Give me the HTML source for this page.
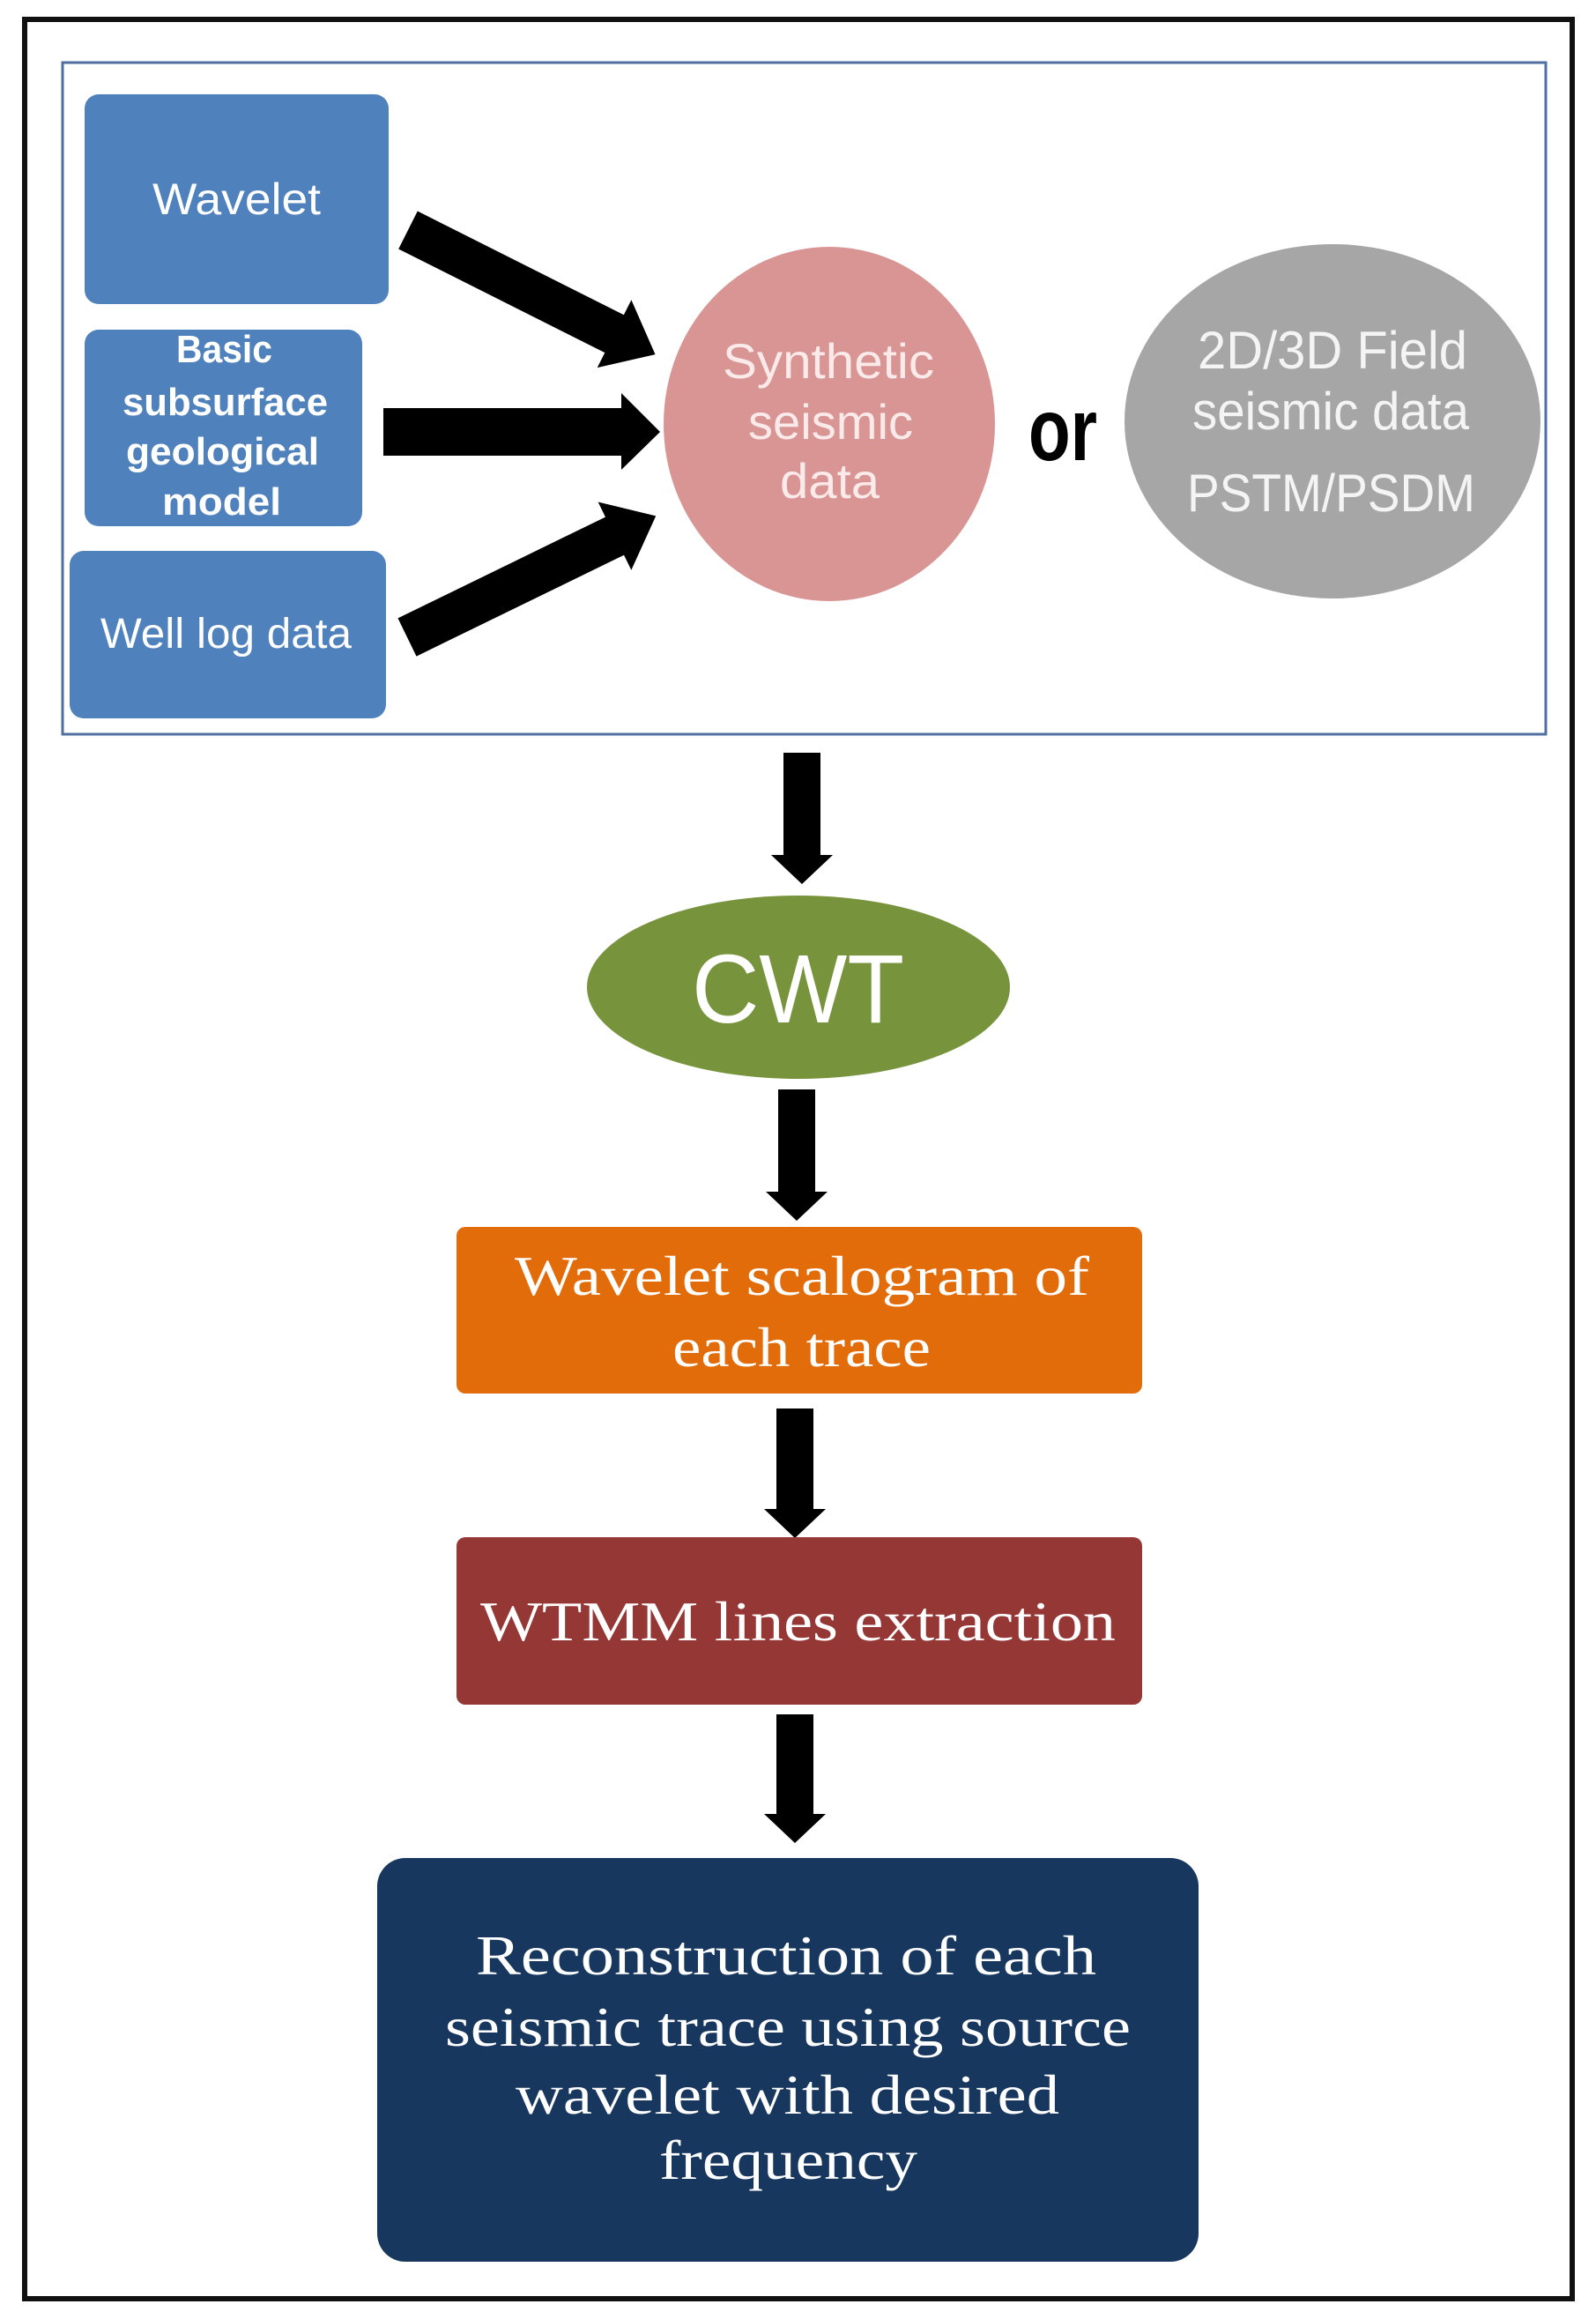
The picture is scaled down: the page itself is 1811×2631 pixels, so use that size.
<!DOCTYPE html>
<html><head><meta charset="utf-8"><style>html,body{margin:0;padding:0;background:#fff}svg{display:block}</style></head>
<body>
<svg width="1811" height="2631" viewBox="0 0 1811 2631" xmlns="http://www.w3.org/2000/svg">
<rect x="28" y="22" width="1756" height="2586" fill="#fff" stroke="#111" stroke-width="6"/>
<rect x="71" y="71" width="1683" height="762" fill="#fff" stroke="#4f6fa0" stroke-width="3"/>
<g font-family="Liberation Sans, sans-serif" fill="#fff">
<rect x="96" y="107" width="345" height="238" rx="16" fill="#4f81bd"/>
<rect x="96" y="374" width="315" height="223" rx="16" fill="#4f81bd"/>
<rect x="79" y="625" width="359" height="190" rx="16" fill="#4f81bd"/>
<text x="173" y="243" font-size="50" textLength="191" lengthAdjust="spacingAndGlyphs">Wavelet</text>
<g font-weight="bold" font-size="44">
<text x="200" y="411" textLength="109" lengthAdjust="spacingAndGlyphs">Basic</text>
<text x="139" y="471" textLength="233" lengthAdjust="spacingAndGlyphs">subsurface</text>
<text x="143" y="527" textLength="219" lengthAdjust="spacingAndGlyphs">geological</text>
<text x="184" y="584" textLength="135" lengthAdjust="spacingAndGlyphs">model</text>
</g>
<text x="114" y="735" font-size="48" textLength="285" lengthAdjust="spacingAndGlyphs">Well log data</text>
<ellipse cx="941" cy="481" rx="188" ry="201" fill="#d99594"/>
<g font-size="56" fill="#fbeaea">
<text x="820" y="429" textLength="240" lengthAdjust="spacingAndGlyphs">Synthetic</text>
<text x="849" y="498" textLength="187" lengthAdjust="spacingAndGlyphs">seismic</text>
<text x="885" y="565" textLength="113" lengthAdjust="spacingAndGlyphs">data</text>
</g>
<ellipse cx="1512" cy="478" rx="236" ry="201" fill="#a6a6a6"/>
<g font-size="60" fill="#f4f4f4">
<text x="1359" y="418" textLength="306" lengthAdjust="spacingAndGlyphs">2D/3D Field</text>
<text x="1353" y="487" textLength="314" lengthAdjust="spacingAndGlyphs">seismic data</text>
<text x="1347" y="580" textLength="327" lengthAdjust="spacingAndGlyphs">PSTM/PSDM</text>
</g>
<text x="1167" y="522" font-size="100" font-weight="bold" fill="#000" textLength="78" lengthAdjust="spacingAndGlyphs">or</text>
</g>
<g fill="#000">
<polygon points="435,463 705,463 705,446 749,490 705,533 705,517 435,517"/>
<g transform="translate(463,261) rotate(26.7)"><polygon points="0,-24 262,-24 262,-43 314,0 262,43 262,24 0,24"/></g>
<g transform="translate(462,723) rotate(-26)"><polygon points="0,-24 262,-24 262,-43 314,0 262,43 262,24 0,24"/></g>
<polygon points="889,854 931,854 931,970 945,970 910,1003 875,970 889,970"/>
<polygon points="883,1236 925,1236 925,1352 939,1352 904,1385 869,1352 883,1352"/>
<polygon points="881,1598 923,1598 923,1712 937,1712 902,1745 867,1712 881,1712"/>
<polygon points="881,1945 923,1945 923,2058 937,2058 902,2091 867,2058 881,2058"/>
</g>
<ellipse cx="906" cy="1120" rx="240" ry="104" fill="#77933c"/>
<text x="785" y="1160" font-family="Liberation Sans, sans-serif" font-size="110" fill="#fff" textLength="241" lengthAdjust="spacingAndGlyphs">CWT</text>
<g font-family="Liberation Serif, serif" fill="#fff" font-size="64">
<rect x="518" y="1392" width="778" height="189" rx="10" fill="#e36c0a"/>
<text x="584" y="1469" textLength="652" lengthAdjust="spacingAndGlyphs">Wavelet scalogram of</text>
<text x="763" y="1550" textLength="293" lengthAdjust="spacingAndGlyphs">each trace</text>
<rect x="518" y="1744" width="778" height="190" rx="10" fill="#953735"/>
<text x="545" y="1861" textLength="721" lengthAdjust="spacingAndGlyphs">WTMM lines extraction</text>
<rect x="428" y="2108" width="932" height="458" rx="32" fill="#17375e"/>
<text x="540" y="2240" textLength="704" lengthAdjust="spacingAndGlyphs">Reconstruction of each</text>
<text x="505" y="2321" textLength="778" lengthAdjust="spacingAndGlyphs">seismic trace using source</text>
<text x="585" y="2398" textLength="617" lengthAdjust="spacingAndGlyphs">wavelet with desired</text>
<text x="748" y="2472" textLength="293" lengthAdjust="spacingAndGlyphs">frequency</text>
</g>
</svg>
</body></html>
